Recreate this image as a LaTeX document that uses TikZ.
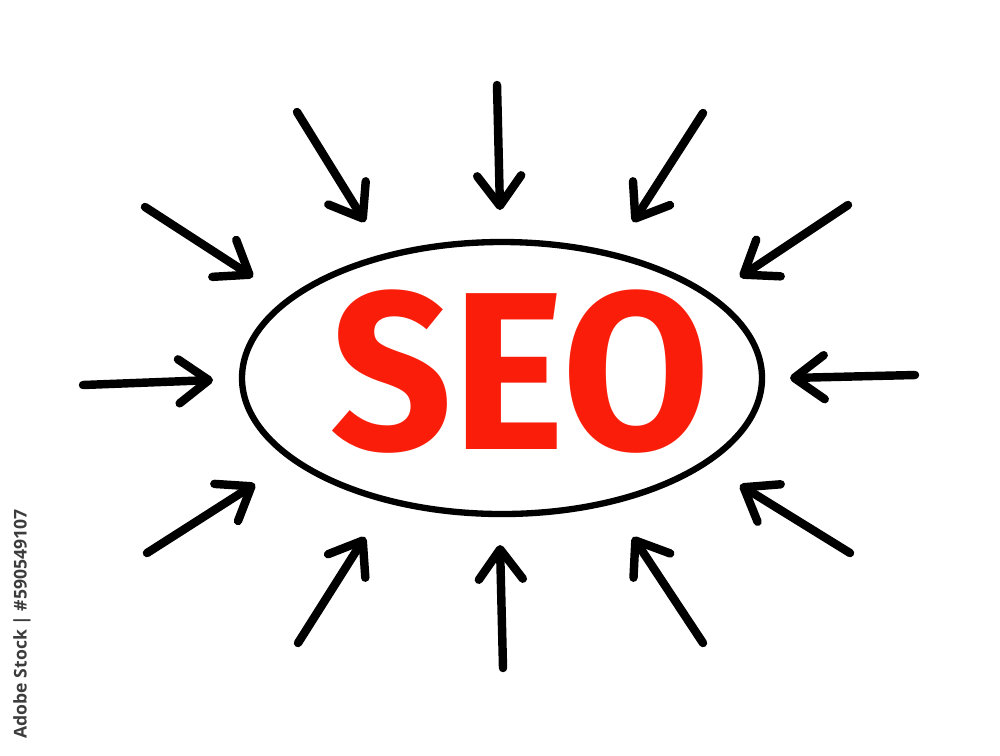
\documentclass[tikz,border=0pt]{standalone}
\usepackage{fontspec}
\setmainfont{Fira Sans}
\newfontfamily\stockfont{Open Sans}
\usetikzlibrary{shapes.geometric,arrows.meta}
\definecolor{seored}{RGB}{250,30,10}
\definecolor{stockgray}{RGB}{60,60,60}
\tikzset{
  pointer/.style={line width=2.4pt, line cap=round,
    -{Straight Barb[length=3mm,width=4.4mm,round]}},
  oval/.style={ellipse, draw, line width=1.8pt, minimum width=5.2cm,
    minimum height=2.72cm, inner sep=0pt}
}
\begin{document}
\begin{tikzpicture}
    \useasboundingbox (0,0) rectangle (10,7.55);

    \node[oval] (oval) at (5.02,3.77) {};
    \node[text=seored, font=\bfseries\fontsize{64}{64}\selectfont, xscale=0.95] (seo) at (5.20,3.83) {SEO};

    % tails and tips of the arrows
    \foreach \n/\tx/\ty/\hx/\hy in {
        1/4.97/6.70/5.00/5.45,
        2/2.97/6.43/3.65/5.33,
        3/7.03/6.42/6.33/5.33,
        4/1.45/5.48/2.53/4.78,
        5/8.48/5.50/7.40/4.78,
        6/0.83/3.70/2.13/3.75,
        7/9.15/3.80/7.90/3.77,
        8/1.47/2.02/2.55/2.71,
        9/8.50/2.02/7.40/2.70,
        10/2.98/1.12/3.65/2.18,
        11/5.03/0.87/5.00/2.10,
        12/7.03/1.12/6.33/2.18}{
        \coordinate (t\n) at (\tx,\ty);
        \coordinate (h\n) at (\hx,\hy);
        \draw[pointer] (t\n) -- (h\n);
    }

    \node[rotate=90, text=stockgray, font=\stockfont\bfseries\fontsize{5}{6}\selectfont, anchor=west, inner sep=0pt] (stock) at (0.22,0.16) {Adobe Stock | \#590549107};
\end{tikzpicture}
\end{document}
